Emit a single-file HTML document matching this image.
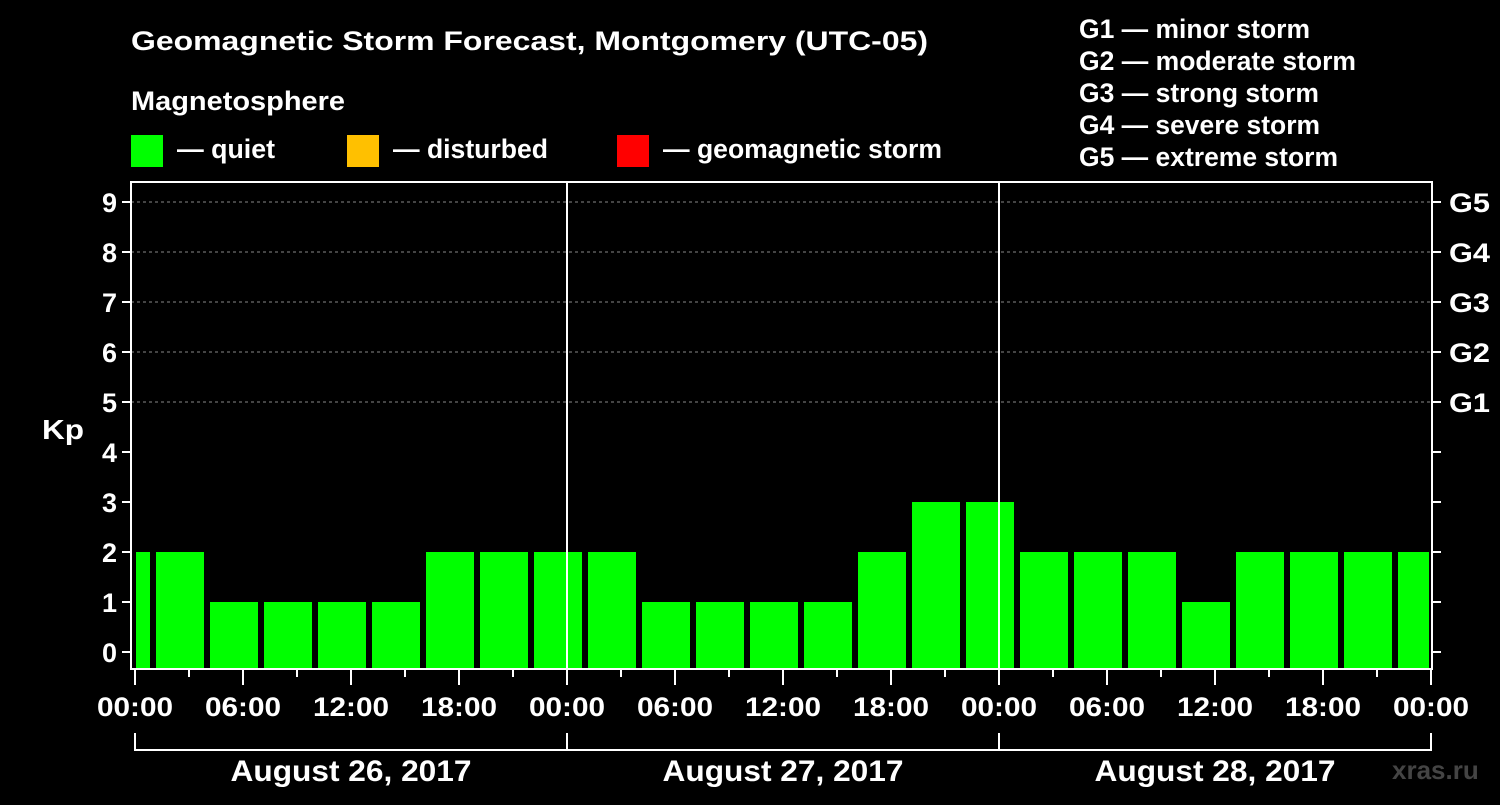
<!DOCTYPE html>
<html><head><meta charset="utf-8"><style>
body{margin:0;background:#000;width:1500px;height:800px;overflow:hidden}
text{font-family:"Liberation Sans",Arial,sans-serif;font-weight:bold;fill:#fff}
</style></head><body>
<svg id="chart" width="1500" height="800" xmlns="http://www.w3.org/2000/svg">
<rect width="1500" height="800" fill="#000"/>
<text x="131" y="50" font-size="27" textLength="797" lengthAdjust="spacingAndGlyphs">Geomagnetic Storm Forecast, Montgomery (UTC-05)</text>
<text x="131" y="110" font-size="27" textLength="214" lengthAdjust="spacingAndGlyphs">Magnetosphere</text>
<g><rect x="131" y="135" width="32" height="32" fill="#00ff00"/><text x="177" y="158" font-size="27" textLength="98" lengthAdjust="spacingAndGlyphs">— quiet</text></g>
<g><rect x="347" y="135" width="32" height="32" fill="#ffc000"/><text x="393" y="158" font-size="27" textLength="155" lengthAdjust="spacingAndGlyphs">— disturbed</text></g>
<g><rect x="617" y="135" width="32" height="32" fill="#ff0000"/><text x="663" y="158" font-size="27" textLength="279" lengthAdjust="spacingAndGlyphs">— geomagnetic storm</text></g>
<g font-size="27">
<text x="1079" y="38" textLength="231" lengthAdjust="spacingAndGlyphs">G1 — minor storm</text>
<text x="1079" y="70" textLength="277" lengthAdjust="spacingAndGlyphs">G2 — moderate storm</text>
<text x="1079" y="102" textLength="240" lengthAdjust="spacingAndGlyphs">G3 — strong storm</text>
<text x="1079" y="134" textLength="241" lengthAdjust="spacingAndGlyphs">G4 — severe storm</text>
<text x="1079" y="166" textLength="259" lengthAdjust="spacingAndGlyphs">G5 — extreme storm</text>
</g>
<text x="42" y="439" font-size="28" textLength="42" lengthAdjust="spacingAndGlyphs">Kp</text>
<text x="1392" y="779" font-size="26" style="fill:#444">xras.ru</text>
<g id="grid"></g><g id="bars"></g><g id="axes"></g>
</svg>
<script>
const kpValues=[2,2,1,1,1,1,2,2,2,2,1,1,1,1,2,3,3,2,2,2,1,2,2,2,2];
const slotStartHours=[-2,1,4,7,10,13,16,19,22,25,28,31,34,37,40,43,46,49,52,55,58,61,64,67,70];
const yTicks=[0,1,2,3,4,5,6,7,8,9];
const gLabels=["","","","","","G1","G2","G3","G4","G5"];
const xTickLabels=["00:00","06:00","12:00","18:00","00:00","06:00","12:00","18:00","00:00","06:00","12:00","18:00","00:00"];
const dayLabels=["August 26, 2017","August 27, 2017","August 28, 2017"];
const NS="http://www.w3.org/2000/svg";
const X0=135,PXH=18,Y0=652,PXK=50,L=131,R=1432,T=182,B=669;
const xs=h=>X0+h*PXH, ys=v=>Y0-v*PXK;
function mk(tag,at,parent){const e=document.createElementNS(NS,tag);for(const k in at)e.setAttribute(k,at[k]);parent.appendChild(e);return e;}
const grid=document.getElementById('grid'),bars=document.getElementById('bars'),axes=document.getElementById('axes');
yTicks.forEach(v=>{if(v>=5){const l=mk('line',{x1:L,x2:R,y1:ys(v),y2:ys(v),stroke:'#888','stroke-dasharray':'3,3','stroke-width':1},grid);

}});
kpValues.forEach((v,i)=>{let a=xs(slotStartHours[i])+3,b=xs(slotStartHours[i]+3)-3;a=Math.max(a,L+5);b=Math.min(b,R-3);
const c=v>=5?'#ff0000':(v>=4?'#ffc000':'#00ff00');
const r=mk('rect',{x:a,y:ys(v),width:b-a,height:B-1-ys(v),fill:c},bars);

});
[1,2].forEach(d=>{const l=mk('line',{x1:xs(24*d),x2:xs(24*d),y1:T,y2:B,stroke:'#fff','stroke-width':2},axes);

});
const fr=mk('rect',{x:L,y:T,width:R-L,height:B-T,fill:'none',stroke:'#fff','stroke-width':2},axes);


yTicks.forEach((v,i)=>{mk('line',{x1:L-9,x2:L,y1:ys(v),y2:ys(v),stroke:'#fff','stroke-width':2},axes);
mk('line',{x1:R,x2:R+9,y1:ys(v),y2:ys(v),stroke:'#fff','stroke-width':2},axes);
const t=mk('text',{x:L-14,y:ys(v)+10,'font-size':27,'text-anchor':'end'},axes);t.textContent=v;


if(gLabels[i]){const g=mk('text',{x:R+17,y:ys(v)+10,'font-size':27,textLength:41,lengthAdjust:'spacingAndGlyphs'},axes);g.textContent=gLabels[i];

}});
for(let h=0;h<=72;h+=3){mk('line',{x1:xs(h),x2:xs(h),y1:B,y2:h%6==0?685:677,stroke:'#fff','stroke-width':2},axes);}
xTickLabels.forEach((s,i)=>{const t=mk('text',{x:xs(i*6),y:716,'font-size':27,'text-anchor':'middle',textLength:76,lengthAdjust:'spacingAndGlyphs'},axes);t.textContent=s;

});
dayLabels.forEach((s,i)=>{const a=xs(i*24),b=xs(i*24+24);
mk('path',{d:`M${a},733V750H${b}V733`,stroke:'#fff','stroke-width':2,fill:'none'},axes);
const t=mk('text',{x:(a+b)/2,y:781,'font-size':30,'text-anchor':'middle',textLength:241,lengthAdjust:'spacingAndGlyphs'},axes);t.textContent=s;

});
</script>
</body></html>
